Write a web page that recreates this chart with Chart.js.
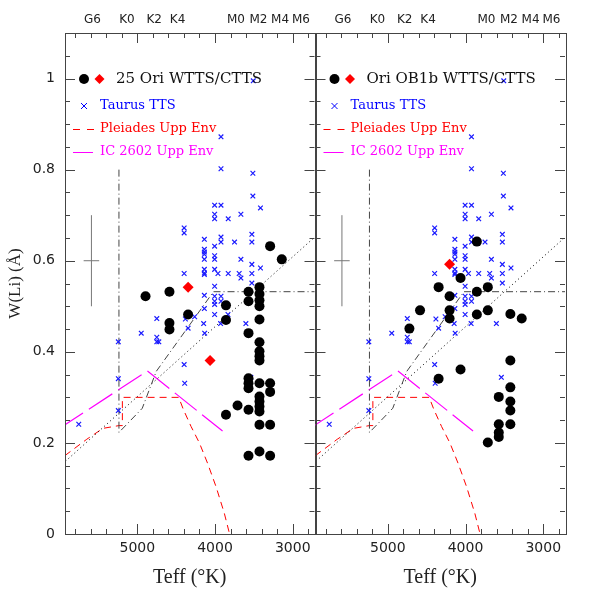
<!DOCTYPE html>
<html>
<head>
<meta charset="utf-8">
<script src="https://cdn.jsdelivr.net/npm/chart.js@4.4.1/dist/chart.umd.min.js"></script>
<style>
  html, body { margin: 0; padding: 0; background: #fff; }
  #wrap { position: relative; width: 598px; height: 598px; overflow: hidden; }
  canvas { position: absolute; top: 0; }
  #leftChart { left: 0; }
  #rightChart { left: 310px; }
</style>
</head>
<body>
<div id="wrap">
  <canvas id="leftChart" width="320" height="598"></canvas>
  <canvas id="rightChart" width="288" height="598"></canvas>
</div>
<script>
// spectral types shown along the top
var sptLabels = ['G6', 'K0', 'K2', 'K4', 'M0', 'M2', 'M4', 'M6'];
var sptTeff = [5577, 5133, 4782, 4481, 3730, 3441, 3163, 2894];

var teffTicks = [5000, 4000, 3000];
var wliTicks = [0, 0.2, 0.4, 0.6, 0.8, 1];

// Taurus TTS (same in both panels)
var taurusTeff = [3508, 3923, 3923, 3513, 3513, 3415, 4005, 3923, 4005, 4005,
  3830, 3667, 4397, 4397, 3923, 3923, 3749, 3526, 3526, 4137,
  4137, 4137, 4137, 4137, 4005, 4005, 4005, 4137, 4137, 4137,
  4005, 3962, 3830, 3667, 3689, 3667, 3526, 3415, 3526, 3526,
  4397, 4005, 4137, 4005, 4005, 4005, 3923, 3923, 4005, 4137,
  3833, 4749, 4381, 4262, 3928, 4949, 4749, 4749, 4723, 4346,
  4146, 4133, 3603, 5244, 5244, 5244, 4397, 4390, 3539, 5753];
var taurusWLi = [0.995, 0.872, 0.802, 0.792, 0.742, 0.716, 0.722, 0.722, 0.702, 0.692,
  0.692, 0.702, 0.672, 0.661, 0.652, 0.641, 0.641, 0.658, 0.641, 0.647,
  0.625, 0.619, 0.614, 0.603, 0.632, 0.611, 0.603, 0.581, 0.573, 0.570,
  0.581, 0.572, 0.572, 0.603, 0.572, 0.562, 0.592, 0.584, 0.572, 0.551,
  0.572, 0.544, 0.524, 0.522, 0.511, 0.504, 0.522, 0.511, 0.482, 0.495,
  0.482, 0.473, 0.472, 0.477, 0.462, 0.441, 0.432, 0.422, 0.422, 0.452,
  0.462, 0.441, 0.462, 0.422, 0.341, 0.271, 0.372, 0.331, 0.344, 0.241];

// 25 Ori members
var ori25Teff = [4894, 4586, 4586, 4586, 4346, 3859, 3859, 3859, 3710,
  3569, 3569, 3569, 3569, 3569, 3569, 3569, 3569,
  3428, 3428, 3428, 3428, 3428, 3428, 3428, 3428, 3428,
  3428, 3428, 3428, 3428, 3428, 3428, 3428,
  3291, 3291, 3291, 3291, 3291, 3141];
var ori25WLi = [0.522, 0.532, 0.463, 0.449, 0.482, 0.502, 0.470, 0.262, 0.282,
  0.532, 0.511, 0.441, 0.342, 0.331, 0.320, 0.273, 0.172,
  0.542, 0.527, 0.513, 0.500, 0.471, 0.421, 0.401, 0.390, 0.381,
  0.331, 0.302, 0.291, 0.280, 0.269, 0.240, 0.181,
  0.331, 0.312, 0.240, 0.172, 0.632, 0.603];
var ori25DiamTeff = [4346, 4064];
var ori25DiamWLi = [0.542, 0.381];

// Ori OB1b members
var ob1bTeff = [3854, 4064, 4346, 4205, 3854, 3713, 4585, 4205, 3713, 4205,
  3854, 3423, 3277, 4722, 4346, 4064, 3423, 3423, 3423, 3423,
  3423, 3572, 3572, 3572, 3572, 3713];
var ob1bWLi = [0.642, 0.562, 0.542, 0.522, 0.532, 0.542, 0.491, 0.491, 0.491, 0.473,
  0.482, 0.483, 0.473, 0.451, 0.341, 0.361, 0.381, 0.322, 0.291, 0.271,
  0.241, 0.301, 0.241, 0.223, 0.213, 0.201];
var ob1bDiamTeff = [4205];
var ob1bDiamWLi = [0.592];

// reference curves
var limitTeff = [5236, 5236, 4936, 4756, 4020, 2600];
var limitWLi = [0.80, 0.223, 0.276, 0.357, 0.532, 0.532];
var dotTeff = [6000, 2600];
var dotWLi = [0.148, 0.670];
var ic2602Teff = [6000, 4870, 3903];
var ic2602WLi = [0.232, 0.358, 0.226];
var pleiadesTeff = [5932, 5650, 5441, 5236, 5192, 5192, 4467, 4406, 4308, 4201, 4095, 3987, 3881, 3805];
var pleiadesWLi = [0.172, 0.208, 0.232, 0.238, 0.238, 0.300, 0.300, 0.273, 0.236, 0.200, 0.155, 0.104, 0.046, -0.005];

// typical error bar
var errTeff = 5590;
var errWLi = 0.60;
var errDTeff = 100;
var errDWLi = 0.10;

function points(xs, ys) {
  return xs.map(function (x, i) { return { x : x, y : ys[i] }; });
}

function curve(xs, ys, color, dash, width) {
  return {
    data : points(xs, ys),
    showLine : true,
    pointRadius : 0,
    borderColor : color,
    borderWidth : width || 1,
    borderDash : dash,
    fill : false,
  };
}

// frame with inward ticks on all four sides
var frameTicks = {
  id : 'frameTicks',
  afterDraw : function (chart) {
    var ctx = chart.ctx;
    var a = chart.chartArea;
    var x = chart.scales.x;
    var y = chart.scales.y;
    ctx.save();
    ctx.strokeStyle = '#444';
    ctx.lineWidth = 1;
    ctx.beginPath();
    for (var t = 2800; t <= 5800; t += 200) {
      var px = Math.round(x.getPixelForValue(t)) + 0.5;
      var len = t % 1000 === 0 ? 10 : 5;
      ctx.moveTo(px, a.bottom); ctx.lineTo(px, a.bottom - len);
      ctx.moveTo(px, a.top); ctx.lineTo(px, a.top + len);
    }
    for (var i = 0; i <= 22; i++) {
      var py = Math.round(y.getPixelForValue(i * 0.05)) + 0.5;
      var l = i % 4 === 0 ? 10 : 5;
      ctx.moveTo(a.left, py); ctx.lineTo(a.left + l, py);
      ctx.moveTo(a.right, py); ctx.lineTo(a.right - l, py);
    }
    ctx.stroke();
    ctx.strokeRect(Math.round(a.left) + 0.5, Math.round(a.top) + 0.5,
      Math.round(a.right - a.left), Math.round(a.bottom - a.top));
    ctx.restore();
  },
};

// spectral type labels along the top
var sptAxis = {
  id : 'sptAxis',
  afterDraw : function (chart) {
    var ctx = chart.ctx;
    ctx.save();
    ctx.fillStyle = '#222';
    ctx.font = '12px "DejaVu Sans"';
    ctx.textAlign = 'center';
    ctx.textBaseline = 'middle';
    sptLabels.forEach(function (lab, i) {
      ctx.fillText(lab, chart.scales.x.getPixelForValue(sptTeff[i]), 20);
    });
    ctx.restore();
  },
};

function legendPlugin(title) {
  return {
    id : 'panelLegend',
    afterDraw : function (chart) {
      var ctx = chart.ctx;
      var L = chart.chartArea.left;
      ctx.save();
      // members
      ctx.fillStyle = '#000';
      ctx.beginPath();
      ctx.arc(L + 19, 79, 5, 0, Math.PI * 2);
      ctx.fill();
      ctx.fillStyle = '#ff0000';
      ctx.beginPath();
      ctx.moveTo(L + 34.5, 74); ctx.lineTo(L + 39.5, 79);
      ctx.lineTo(L + 34.5, 84); ctx.lineTo(L + 29.5, 79);
      ctx.closePath();
      ctx.fill();
      ctx.fillStyle = '#111';
      ctx.font = '15px "DejaVu Serif"';
      ctx.textBaseline = 'middle';
      ctx.fillText(title, L + 51, 79);

      // Taurus
      ctx.strokeStyle = '#0000ff';
      ctx.lineWidth = 1;
      ctx.beginPath();
      ctx.moveTo(L + 16, 103); ctx.lineTo(L + 22, 109);
      ctx.moveTo(L + 22, 103); ctx.lineTo(L + 16, 109);
      ctx.stroke();
      ctx.fillStyle = '#0000ff';
      ctx.font = '13px "DejaVu Serif"';
      ctx.fillText('Taurus TTS', L + 35, 106);

      // Pleiades
      ctx.strokeStyle = '#ff0000';
      ctx.setLineDash([7, 7]);
      ctx.beginPath();
      ctx.moveTo(L + 8, 129.5); ctx.lineTo(L + 30, 129.5);
      ctx.stroke();
      ctx.setLineDash([]);
      ctx.fillStyle = '#ff0000';
      ctx.fillText('Pleiades Upp Env', L + 35, 129);

      // IC 2602
      ctx.strokeStyle = '#ff00ff';
      ctx.beginPath();
      ctx.moveTo(L + 8, 152.5); ctx.lineTo(L + 28, 152.5);
      ctx.stroke();
      ctx.fillStyle = '#ff00ff';
      ctx.fillText('IC 2602 Upp Env', L + 35, 152);
      ctx.restore();
    },
  };
}

function panelDatasets(circTeff, circWLi, diamTeff, diamWLi) {
  return [
    {
      data : points(circTeff, circWLi),
      pointStyle : 'circle',
      pointRadius : 5,
      backgroundColor : '#000',
      borderWidth : 0,
    },
    {
      data : points(diamTeff, diamWLi),
      pointStyle : 'rectRot',
      pointRadius : 5.5,
      backgroundColor : '#ff0000',
      borderWidth : 0,
    },
    {
      data : points(taurusTeff, taurusWLi),
      pointStyle : 'crossRot',
      pointRadius : 3.3,
      borderColor : '#1a1aff',
      borderWidth : 1.2,
    },
    curve(limitTeff, limitWLi, '#444', [7, 3, 1, 3]),
    curve(dotTeff, dotWLi, '#000', [1, 3]),
    curve(ic2602Teff, ic2602WLi, '#ff00ff', [28, 7], 1.2),
    curve(pleiadesTeff, pleiadesWLi, '#ff0000', [7, 5]),
    curve([errTeff, errTeff], [errWLi - errDWLi, errWLi + errDWLi], '#777', []),
    curve([errTeff + errDTeff, errTeff - errDTeff], [errWLi, errWLi], '#777', []),
  ];
}

function panelOptions(showY, padding) {
  return {
    responsive : false,
    animation : false,
    layout : { padding : padding },
    plugins : { legend : { display : false }, tooltip : { enabled : false } },
    scales : {
      x : {
        type : 'linear',
        reverse : true,
        min : 2720,
        max : 5930,
        grid : { display : false, drawTicks : false },
        border : { display : false },
        afterBuildTicks : function (axis) {
          axis.ticks = teffTicks.map(function (v) { return { value : v }; });
        },
        afterFit : function (axis) { axis.height = 64; },
        ticks : {
          color : '#222',
          padding : 6,
          maxRotation : 0,
          font : { family : 'DejaVu Sans', size : 14 },
          callback : function (v) { return String(v); },
        },
        title : {
          display : true,
          text : 'Teff (°K)',
          color : '#222',
          font : { family : 'Liberation Serif', size : 20 },
          padding : { top : 4, bottom : 8 },
        },
      },
      y : {
        display : showY,
        min : 0,
        max : 1.1,
        grid : { display : false, drawTicks : false },
        border : { display : false },
        afterBuildTicks : function (axis) {
          axis.ticks = wliTicks.map(function (v) { return { value : v }; });
        },
        afterFit : function (axis) { axis.width = showY ? 65 : 0; },
        ticks : {
          color : '#222',
          padding : 10,
          font : { family : 'DejaVu Sans', size : 14 },
          callback : function (v) { return (v === 0 || v === 1) ? String(v) : v.toFixed(1); },
        },
        title : {
          display : true,
          text : 'W(Li) (Å)',
          color : '#222',
          font : { family : 'Liberation Serif', size : 17 },
          padding : { top : 5, bottom : 4 },
        },
      },
    },
  };
}

var leftChart = new Chart(document.getElementById('leftChart').getContext('2d'), {
  type : 'scatter',
  data : { datasets : panelDatasets(ori25Teff, ori25WLi, ori25DiamTeff, ori25DiamWLi) },
  options : panelOptions(true, { left : 0, right : 5, top : 33, bottom : 0 }),
  plugins : [frameTicks, sptAxis, legendPlugin('25 Ori WTTS/CTTS')],
});

var rightChart = new Chart(document.getElementById('rightChart').getContext('2d'), {
  type : 'scatter',
  data : { datasets : panelDatasets(ob1bTeff, ob1bWLi, ob1bDiamTeff, ob1bDiamWLi) },
  options : panelOptions(false, { left : 5, right : 33, top : 33, bottom : 0 }),
  plugins : [frameTicks, sptAxis, legendPlugin('Ori OB1b WTTS/CTTS')],
});
</script>
</body>
</html>
